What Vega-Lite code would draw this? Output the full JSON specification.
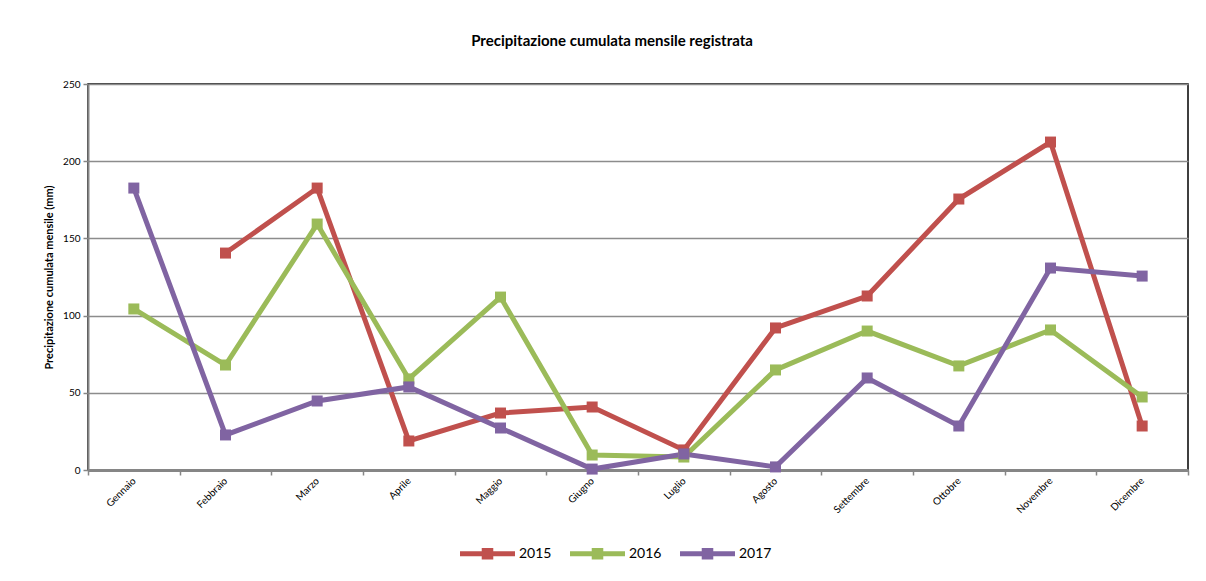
{
  "$schema": "https://vega.github.io/schema/vega-lite/v6.json",
  "autosize": {"type": "none"},
  "width": 1100,
  "height": 386,
  "padding": {"left": 88, "top": 84, "right": 18, "bottom": 111},
  "background": "white",
  "title": {
    "text": "Precipitazione cumulata mensile registrata",
    "font": "Lato",
    "fontSize": 15,
    "fontWeight": "bold",
    "color": "#000000",
    "anchor": "middle",
    "dx": -26,
    "offset": 30
  },
  "config": {
    "view": {"stroke": "#000000", "strokeWidth": 1.5},
    "font": "Lato"
  },
  "data": {
    "values": [
      {"mese": "Febbraio", "anno": "2015", "mm": 140.5},
      {"mese": "Marzo", "anno": "2015", "mm": 182.6},
      {"mese": "Aprile", "anno": "2015", "mm": 18.8},
      {"mese": "Maggio", "anno": "2015", "mm": 36.9},
      {"mese": "Giugno", "anno": "2015", "mm": 40.8},
      {"mese": "Luglio", "anno": "2015", "mm": 13},
      {"mese": "Agosto", "anno": "2015", "mm": 92},
      {"mese": "Settembre", "anno": "2015", "mm": 112.7},
      {"mese": "Ottobre", "anno": "2015", "mm": 175.5},
      {"mese": "Novembre", "anno": "2015", "mm": 212.4},
      {"mese": "Dicembre", "anno": "2015", "mm": 28.5},
      {"mese": "Gennaio", "anno": "2016", "mm": 104.3},
      {"mese": "Febbraio", "anno": "2016", "mm": 68},
      {"mese": "Marzo", "anno": "2016", "mm": 159.3},
      {"mese": "Aprile", "anno": "2016", "mm": 59},
      {"mese": "Maggio", "anno": "2016", "mm": 112},
      {"mese": "Giugno", "anno": "2016", "mm": 9.7},
      {"mese": "Luglio", "anno": "2016", "mm": 8.4},
      {"mese": "Agosto", "anno": "2016", "mm": 64.8},
      {"mese": "Settembre", "anno": "2016", "mm": 90},
      {"mese": "Ottobre", "anno": "2016", "mm": 67.4},
      {"mese": "Novembre", "anno": "2016", "mm": 90.7},
      {"mese": "Dicembre", "anno": "2016", "mm": 47.3},
      {"mese": "Gennaio", "anno": "2017", "mm": 182.6},
      {"mese": "Febbraio", "anno": "2017", "mm": 22.7},
      {"mese": "Marzo", "anno": "2017", "mm": 44.7},
      {"mese": "Aprile", "anno": "2017", "mm": 53.8},
      {"mese": "Maggio", "anno": "2017", "mm": 27.2},
      {"mese": "Giugno", "anno": "2017", "mm": 0.6},
      {"mese": "Luglio", "anno": "2017", "mm": 10.4},
      {"mese": "Agosto", "anno": "2017", "mm": 2},
      {"mese": "Settembre", "anno": "2017", "mm": 59.6},
      {"mese": "Ottobre", "anno": "2017", "mm": 28.5},
      {"mese": "Novembre", "anno": "2017", "mm": 130.8},
      {"mese": "Dicembre", "anno": "2017", "mm": 125.6}
    ]
  },
  "encoding": {
    "x": {
      "field": "mese",
      "type": "nominal",
      "sort": ["Gennaio", "Febbraio", "Marzo", "Aprile", "Maggio", "Giugno", "Luglio", "Agosto", "Settembre", "Ottobre", "Novembre", "Dicembre"],
      "scale": {"type": "band", "paddingInner": 0, "paddingOuter": 0},
      "axis": {
        "title": null,
        "tickBand": "extent",
        "grid": false,
        "domainColor": "#868686",
        "domainWidth": 3,
        "tickColor": "#868686",
        "tickWidth": 1.5,
        "tickSize": 5,
        "labelAngle": -45,
        "labelAlign": "right",
        "labelBaseline": "middle",
        "labelFontSize": 10,
        "labelColor": "#000000",
        "labelPadding": 4
      }
    },
    "y": {
      "field": "mm",
      "type": "quantitative",
      "scale": {"domain": [0, 250], "nice": false},
      "axis": {
        "title": "Precipitazione cumulata mensile (mm)",
        "titleFontSize": 11,
        "titleFontWeight": "bold",
        "titleColor": "#000000",
        "titlePadding": 8,
        "values": [0, 50, 100, 150, 200, 250],
        "grid": true,
        "gridColor": "#8c8c8c",
        "gridWidth": 1.5,
        "domainColor": "#868686",
        "domainWidth": 2,
        "tickColor": "#868686",
        "tickWidth": 1.5,
        "tickSize": 5,
        "labelFontSize": 10,
        "labelColor": "#000000",
        "labelPadding": 3
      }
    },
    "color": {
      "field": "anno",
      "type": "nominal",
      "scale": {"domain": ["2015", "2016", "2017"], "range": ["#C0504D", "#9BBB59", "#8064A2"]},
      "legend": {
        "title": null,
        "orient": "none",
        "direction": "horizontal",
        "legendX": 372,
        "legendY": 442,
        "symbolType": "M-1,-0.09L1,-0.09L1,0.09L-1,0.09Z M-0.21,-0.21L0.21,-0.21L0.21,0.21L-0.21,0.21Z",
        "symbolSize": 3025,
        "symbolStrokeWidth": 0,
        "symbolOpacity": 1,
        "labelFontSize": 14,
        "labelColor": "#000000",
        "labelOffset": 4,
        "columnPadding": 18,
        "encode": {"symbols": {"update": {"fill": {"scale": "color", "field": "value"}, "strokeWidth": {"value": 0}, "opacity": {"value": 1}}}}
      }
    }
  },
  "layer": [
    {"mark": {"type": "line", "strokeWidth": 5, "strokeJoin": "miter"}},
    {"mark": {"type": "point", "shape": "square", "filled": true, "size": 121, "opacity": 1}}
  ]
}
